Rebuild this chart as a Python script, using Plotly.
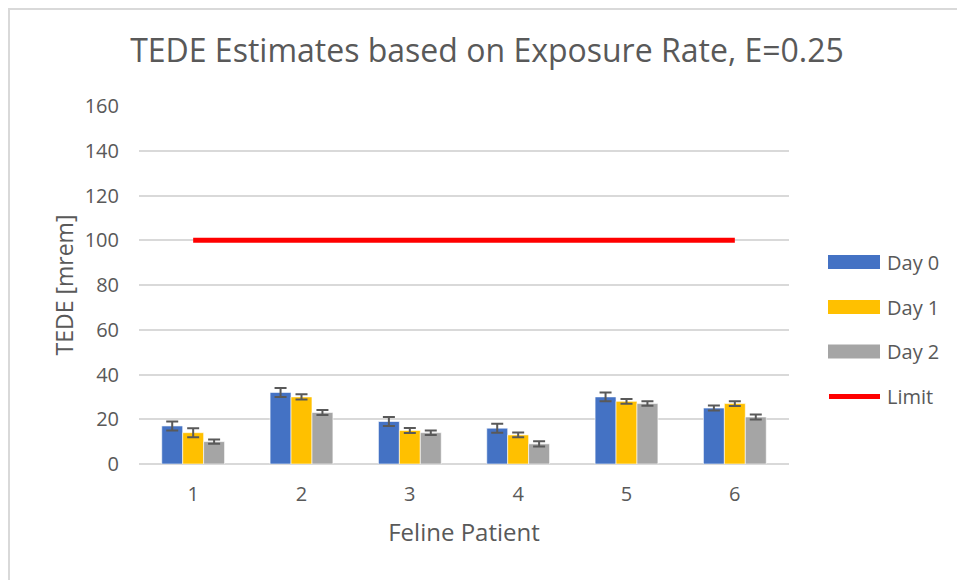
import plotly.graph_objects as go

patients = ["1", "2", "3", "4", "5", "6"]
day0 = [17, 32, 19, 16, 30, 25]
day0_err = [2, 2, 2, 2, 2, 1.1]
day1 = [14, 30, 15, 13, 28, 27]
day1_err = [2, 1.2, 1.1, 1.1, 1.1, 1.1]
day2 = [10, 23, 14, 9, 27, 21]
day2_err = [1, 1.1, 1, 1.2, 1, 1.1]
limit = [100, 100, 100, 100, 100, 100]
series_names = ["Day 0", "Day 1", "Day 2", "Limit"]

colors = ["#4472C4", "#FFC000", "#A5A5A5"]
limit_color = "#FF0000"
font = "Open Sans"
grey = "#595959"

# plot area in screen pixels (page has an 8px body offset)
PX0, PX1, PY0, PY1 = 139, 789, 106, 464
W, H = PX1 - PX0, PY1 - PY0


def px(sx):
    return (sx - PX0) / W


def py(sy):
    return (PY1 - sy) / H


fig = go.Figure()
for name, vals, errs, c in [(series_names[0], day0, day0_err, colors[0]),
                            (series_names[1], day1, day1_err, colors[1]),
                            (series_names[2], day2, day2_err, colors[2])]:
    fig.add_trace(go.Bar(
        x=patients, y=vals, name=name, showlegend=False,
        marker=dict(color=c, line=dict(color="rgba(255,255,255,0.6)", width=1)),
        error_y=dict(type="data", array=errs, visible=True, color=grey,
                     thickness=2, width=6),
    ))
fig.add_trace(go.Scatter(x=patients, y=limit, name=series_names[3], mode="lines",
                         showlegend=False, line=dict(color=limit_color, width=5)))

# chart border + manual legend (Excel-style wide swatches)
shapes = [dict(type="rect", xref="paper", yref="paper",
               x0=px(9), x1=px(985), y0=py(600), y1=py(9),
               line=dict(color="#D9D9D9", width=2), layer="below")]
annotations = []
legend_y = [262, 307, 351.5, 396.5]
for i, name in enumerate(series_names):
    cy = legend_y[i]
    if i < 3:
        shapes.append(dict(type="rect", xref="paper", yref="paper",
                           x0=px(828), x1=px(880), y0=py(cy + 7), y1=py(cy - 7),
                           fillcolor=colors[i], line=dict(width=0)))
    else:
        shapes.append(dict(type="line", xref="paper", yref="paper",
                           x0=px(829), x1=px(880), y0=py(cy), y1=py(cy),
                           line=dict(color=limit_color, width=5)))
    annotations.append(dict(text=name, xref="paper", yref="paper",
                            x=px(885), y=py(cy), xanchor="left", yanchor="middle",
                            showarrow=False, font=dict(family=font, size=20, color=grey)))

fig.update_layout(
    width=965, height=580,
    margin=dict(l=131, r=965 - 131 - W, t=98, b=580 - 98 - H),
    paper_bgcolor="white", plot_bgcolor="white",
    barmode="group", bargap=0.42, bargroupgap=0,
    title=dict(text="TEDE Estimates based on Exposure Rate, E=0.25",
               xref="paper", x=px(487), xanchor="center",
               yref="container", y=1 - 43 / 580, yanchor="middle",
               font=dict(family=font, size=32, color=grey)),
    font=dict(family=font, color=grey),
    showlegend=False,
    shapes=shapes,
    annotations=annotations,
)
fig.update_xaxes(title=dict(text="Feline Patient", font=dict(size=24, color=grey), standoff=18),
                 tickfont=dict(size=20, color=grey), showgrid=False,
                 showline=True, linecolor="#D9D9D9", ticks="", ticklabelstandoff=12)
fig.update_yaxes(title=dict(text="TEDE [mrem]", font=dict(size=23, color=grey), standoff=4),
                 range=[0, 160], dtick=20, tickfont=dict(size=20, color=grey),
                 showgrid=True, gridcolor="#D9D9D9", gridwidth=1.5,
                 zeroline=True, zerolinecolor="#D9D9D9", zerolinewidth=1.5,
                 ticks="", ticklabelstandoff=19)

fig.write_html("out.html")
